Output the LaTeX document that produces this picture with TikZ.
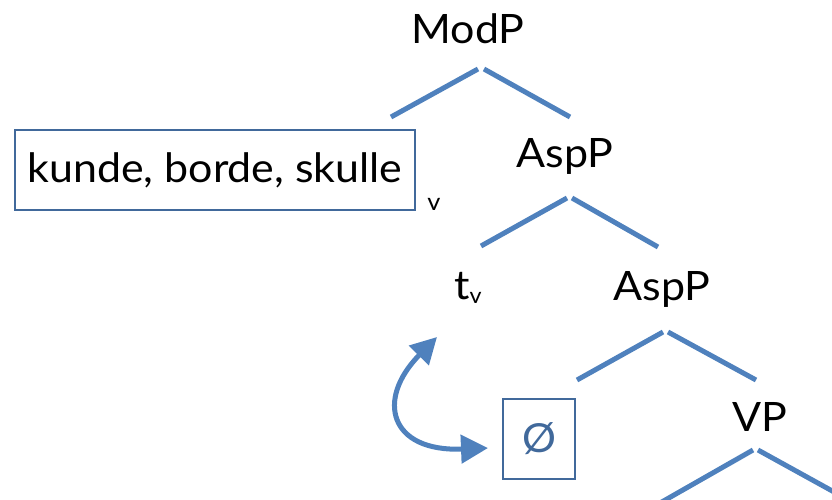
\documentclass[tikz,border=0pt]{standalone}
\usepackage{fontspec}
\setmainfont{Lato}[FakeStretch=1.06]
\usetikzlibrary{arrows.meta}
\definecolor{branch}{HTML}{4F81BD}
\definecolor{boxline}{HTML}{41699B}
\begin{document}
\begin{tikzpicture}[x=1pt,y=-1pt,
  lbl/.style={inner sep=0pt,anchor=base,font=\fontsize{40.5}{42}\selectfont},
  sublbl/.style={inner sep=0pt,anchor=base,font=\fontsize{24}{26}\selectfont},
  br/.style={draw=branch,line width=5pt},
  framebox/.style={draw=boxline,line width=1.8pt,inner sep=0pt}]
\useasboundingbox (0,0) rectangle (832,499);
\clip (0,0) rectangle (832,499);
% labels
\node[lbl] (modp) at (468,43) {ModP};
\node[framebox,minimum width=400pt,minimum height=80pt,font=\fontsize{40.5}{42}\selectfont] (verbs) at (215,170) {kunde, borde, skulle};
\node[sublbl] (vsub) at (434,210) {v};
\node[lbl] (asp1) at (565,167) {AspP};
\node[lbl] (tv) at (468,299) {t\raisebox{-0.12em}{\fontsize{22}{24}\selectfont v}};
\node[lbl] (asp2) at (662,300) {AspP};
\node[framebox,minimum width=72pt,minimum height=80pt,text=boxline,font=\fontsize{40}{42}\selectfont] (empty) at (539,439) {Ø};
\node[lbl] (vp) at (760,431) {VP};
% branch end points
\coordinate (m-l) at (391,117); \coordinate (m-lt) at (478,69);
\coordinate (m-rt) at (484,69); \coordinate (m-r) at (570,117);
\coordinate (a1-l) at (481,246); \coordinate (a1-lt) at (567,198);
\coordinate (a1-rt) at (572,198); \coordinate (a1-r) at (658,247);
\coordinate (a2-l) at (577,380); \coordinate (a2-lt) at (663,332);
\coordinate (a2-rt) at (668,332); \coordinate (a2-r) at (756,380);
\coordinate (v-l) at (660,503); \coordinate (v-lt) at (753,450);
\coordinate (v-rt) at (758,450); \coordinate (v-r) at (845,498);
\draw[br] (m-l) -- (m-lt); \draw[br] (m-rt) -- (m-r);
\draw[br] (a1-l) -- (a1-lt); \draw[br] (a1-rt) -- (a1-r);
\draw[br] (a2-l) -- (a2-lt); \draw[br] (a2-rt) -- (a2-r);
\draw[br] (v-l) -- (v-lt); \draw[br] (v-rt) -- (v-r);
% movement arrow
\coordinate (arr-top) at (437,337);
\coordinate (arr-end) at (488,448);
\draw[br,{Triangle[length=26pt,width=27pt]}-{Triangle[length=27pt,width=28pt]}]
  (arr-top) .. controls (375,400) and (390,452) .. (arr-end);
\end{tikzpicture}
\end{document}
